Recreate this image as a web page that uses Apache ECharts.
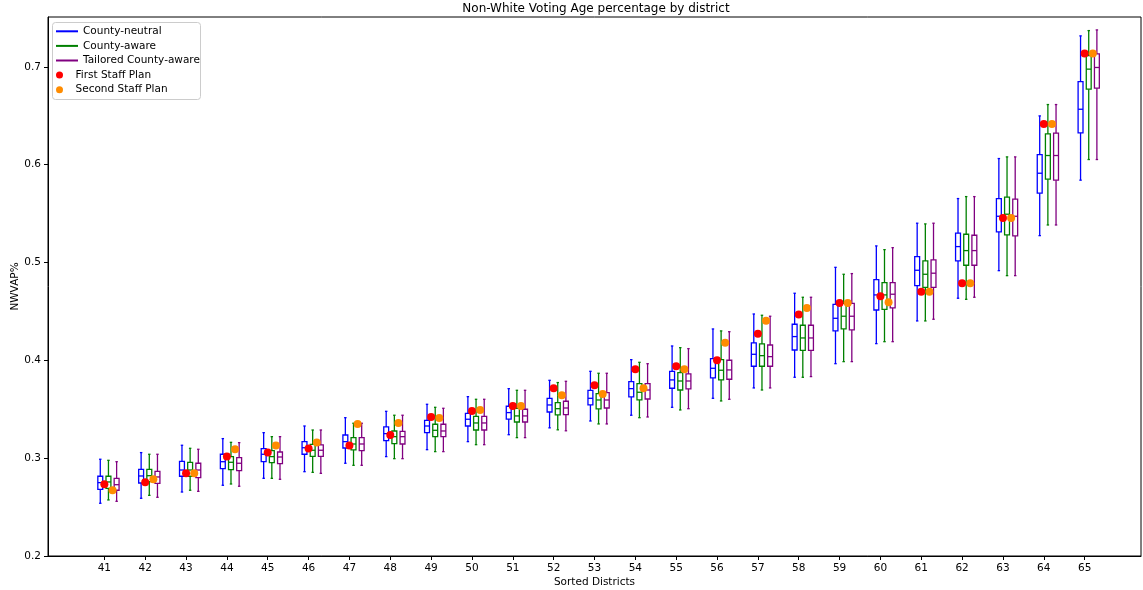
<!DOCTYPE html>
<html>
<head>
<meta charset="utf-8">
<script src="https://cdn.jsdelivr.net/npm/echarts@6/dist/echarts.min.js"></script>
<style>html,body{margin:0;padding:0;background:#fff}#c{width:1143px;height:590px}</style>
</head>
<body>
<div id="c"></div>
<script>
// ---- data ----
const districts = [41,42,43,44,45,46,47,48,49,50,51,52,53,54,55,56,57,58,59,60,61,62,63,64,65];
const yTicks = [0.2,0.3,0.4,0.5,0.6,0.7];
const yTickLabels = ['0.2','0.3','0.4','0.5','0.6','0.7'];
// [low whisker, Q1, median, Q3, high whisker]
const countyNeutral = [
 [0.2539,0.2682,0.2750,0.2815,0.2989],[0.2590,0.2746,0.2818,0.2886,0.3057],[0.2654,0.2815,0.2879,0.2968,0.3132],
 [0.2723,0.2893,0.2964,0.3040,0.3200],[0.2794,0.2964,0.3040,0.3098,0.3261],[0.2862,0.3040,0.3107,0.3169,0.3329],
 [0.2948,0.3104,0.3169,0.3237,0.3414],[0.3016,0.3179,0.3251,0.3319,0.3479],[0.3087,0.3261,0.3329,0.3387,0.3551],
 [0.3169,0.3329,0.3398,0.3459,0.3629],[0.3240,0.3400,0.3466,0.3531,0.3711],[0.3310,0.3472,0.3544,0.3612,0.3796],
 [0.3380,0.3544,0.3612,0.3694,0.3888],[0.3439,0.3626,0.3711,0.3783,0.4007],[0.3520,0.3715,0.3800,0.3888,0.4147],
 [0.3612,0.3820,0.3919,0.4018,0.4321],[0.3718,0.3940,0.4062,0.4178,0.4474],[0.3827,0.4106,0.4243,0.4369,0.4686],
 [0.3966,0.4301,0.4430,0.4573,0.4951],[0.4171,0.4515,0.4669,0.4825,0.5170],[0.4403,0.4764,0.4921,0.5060,0.5402],
 [0.4635,0.5016,0.5163,0.5300,0.5654],[0.4917,0.5313,0.5473,0.5654,0.6063],[0.5275,0.5709,0.5913,0.6104,0.6499],
 [0.5842,0.6325,0.6567,0.6850,0.7317]
];
const countyAware = [
 [0.2573,0.2692,0.2757,0.2815,0.2978],[0.2620,0.2760,0.2821,0.2886,0.3040],[0.2672,0.2815,0.2879,0.2958,0.3101],
 [0.2736,0.2883,0.2958,0.3016,0.3162],[0.2794,0.2954,0.3016,0.3077,0.3220],[0.2855,0.3019,0.3081,0.3142,0.3288],
 [0.2927,0.3084,0.3145,0.3210,0.3357],[0.2995,0.3149,0.3220,0.3278,0.3439],[0.3067,0.3220,0.3285,0.3347,0.3520],
 [0.3138,0.3288,0.3360,0.3428,0.3602],[0.3210,0.3370,0.3432,0.3510,0.3694],[0.3290,0.3442,0.3506,0.3568,0.3773],
 [0.3350,0.3503,0.3595,0.3660,0.3868],[0.3414,0.3595,0.3674,0.3762,0.3980],[0.3493,0.3697,0.3789,0.3874,0.4130],
 [0.3585,0.3800,0.3899,0.4007,0.4301],[0.3697,0.3940,0.4048,0.4168,0.4461],[0.3827,0.4103,0.4229,0.4359,0.4645],
 [0.3987,0.4321,0.4451,0.4583,0.4880],[0.4191,0.4522,0.4669,0.4795,0.5132],[0.4403,0.4747,0.4880,0.5016,0.5395],
 [0.4624,0.4972,0.5122,0.5289,0.5674],[0.4866,0.5282,0.5494,0.5668,0.6080],[0.5384,0.5852,0.6094,0.6315,0.6615],
 [0.6053,0.6772,0.6977,0.7116,0.7371]
];
const tailoredAware = [
 [0.2559,0.2672,0.2729,0.2794,0.2964],[0.2600,0.2743,0.2808,0.2866,0.3040],[0.2661,0.2801,0.2879,0.2948,0.3091],
 [0.2713,0.2873,0.2948,0.3005,0.3159],[0.2784,0.2944,0.3012,0.3063,0.3220],[0.2845,0.3019,0.3081,0.3135,0.3288],
 [0.2927,0.3077,0.3145,0.3210,0.3357],[0.2995,0.3145,0.3220,0.3275,0.3439],[0.3067,0.3220,0.3278,0.3347,0.3510],
 [0.3138,0.3288,0.3360,0.3428,0.3602],[0.3210,0.3370,0.3432,0.3500,0.3694],[0.3280,0.3445,0.3513,0.3582,0.3786],
 [0.3350,0.3513,0.3595,0.3670,0.3868],[0.3421,0.3605,0.3697,0.3762,0.3966],[0.3506,0.3708,0.3789,0.3861,0.4120],
 [0.3602,0.3807,0.3902,0.4001,0.4293],[0.3718,0.3940,0.4038,0.4157,0.4451],[0.3834,0.4103,0.4229,0.4359,0.4645],
 [0.3987,0.4311,0.4451,0.4583,0.4887],[0.4191,0.4536,0.4676,0.4795,0.5152],[0.4420,0.4747,0.4891,0.5027,0.5402],
 [0.4645,0.4972,0.5122,0.5279,0.5674],[0.4866,0.5272,0.5473,0.5648,0.6080],[0.5384,0.5842,0.6094,0.6322,0.6615],
 [0.6053,0.6782,0.6994,0.7133,0.7378]
];
const firstStaffPlan = [0.2733,0.2753,0.2845,0.3016,0.3057,0.3098,0.3129,0.3237,0.3421,0.3483,0.3534,0.3715,0.3745,
 0.3909,0.3940,0.4001,0.4273,0.4468,0.4587,0.4655,0.4702,0.4788,0.5456,0.6417,0.7137];
const secondStaffPlan = [0.2672,0.2784,0.2845,0.3091,0.3129,0.3159,0.3350,0.3360,0.3411,0.3493,0.3534,0.3643,0.3656,
 0.3715,0.3909,0.4181,0.4406,0.4536,0.4587,0.4594,0.4702,0.4788,0.5456,0.6417,0.7137];

// ---- chart ----
const FONT = 'DejaVu Sans';
const BOX_W = 0.12;
function boxSeries(name, stats, offset, color) {
  return {
    name, type: 'custom',
    itemStyle: { color },
    encode: { x: 0, y: [1, 2, 3, 4, 5] },
    data: stats.map((s, i) => [districts[i] + offset].concat(s)),
    renderItem: function (params, api) {
      const x = api.value(0);
      const lo = api.coord([x, api.value(1)]);
      const q1 = api.coord([x, api.value(2)]);
      const md = api.coord([x, api.value(3)]);
      const q3 = api.coord([x, api.value(4)]);
      const hi = api.coord([x, api.value(5)]);
      const w = api.size([BOX_W, 0])[0];
      const cx = lo[0], h = w / 2, cap = w / 4;
      const st = () => ({ stroke: color, lineWidth: 1.3, fill: null });
      return { type: 'group', children: [
        { type: 'line', shape: { x1: cx, y1: lo[1], x2: cx, y2: q1[1] }, style: st() },
        { type: 'line', shape: { x1: cx, y1: q3[1], x2: cx, y2: hi[1] }, style: st() },
        { type: 'line', shape: { x1: cx - cap, y1: lo[1], x2: cx + cap, y2: lo[1] }, style: st() },
        { type: 'line', shape: { x1: cx - cap, y1: hi[1], x2: cx + cap, y2: hi[1] }, style: st() },
        { type: 'rect', shape: { x: cx - h, y: q3[1], width: w, height: q1[1] - q3[1] }, style: st() },
        { type: 'line', shape: { x1: cx - h, y1: md[1], x2: cx + h, y2: md[1] }, style: st() }
      ]};
    }
  };
}
function dotSeries(name, vals, offset, color) {
  return {
    name, type: 'scatter', symbol: 'circle', symbolSize: 8,
    itemStyle: { color, opacity: 1 }, z: 5,
    data: vals.map((v, i) => [districts[i] + offset, v])
  };
}

const chart = echarts.init(document.getElementById('c'), null, { renderer: 'canvas' });
chart.setOption({
  animation: false,
  backgroundColor: '#fff',
  textStyle: { fontFamily: FONT },
  title: {
    text: 'Non-White Voting Age percentage by district',
    left: 596, top: 3, padding: 0, textAlign: 'center',
    textStyle: { fontFamily: FONT, fontSize: 12, fontWeight: 'normal', color: '#000' }
  },
  grid: { left: 48, right: 2, top: 17, bottom: 34, show: true, borderColor: '#000', borderWidth: 1,
    containLabel: false, outerBoundsMode: 'none' },
  graphic: [{
    type: 'rect', left: 52, top: 22, z: 1,
    shape: { width: 148, height: 77, r: 3 },
    style: { fill: 'rgba(255,255,255,0.8)', stroke: '#cccccc', lineWidth: 1 }
  }],
  legend: [{
    left: 56, top: 24, padding: 0, orient: 'vertical', itemWidth: 22, itemHeight: 2, itemGap: 0, z: 10,
    textStyle: { fontFamily: FONT, fontSize: 10.5, color: '#000', lineHeight: 14.6 },
    data: [
      { name: 'County-neutral', icon: 'rect' },
      { name: 'County-aware', icon: 'rect' },
      { name: 'Tailored County-aware', icon: 'rect' }
    ]
  }, {
    left: 56, top: 67.8, padding: 0, orient: 'vertical', itemWidth: 22, itemHeight: 7, itemGap: 0, z: 10,
    textStyle: { fontFamily: FONT, fontSize: 10.5, color: '#000', lineHeight: 14.6 },
    data: [
      { name: 'First Staff Plan', icon: 'circle' },
      { name: 'Second Staff Plan', icon: 'circle' }
    ]
  }],
  xAxis: {
    type: 'value', min: 39.62, max: 66.38,
    name: 'Sorted Districts', nameLocation: 'middle', nameGap: 21, nameMoveOverlap: false,
    nameTextStyle: { fontFamily: FONT, fontSize: 10.5, color: '#000' },
    axisLine: { show: true, lineStyle: { color: '#000', width: 1 } },
    axisTick: { show: true, length: 4, lineStyle: { color: '#000' }, customValues: districts },
    axisLabel: { margin: 7, fontFamily: FONT, fontSize: 10.5, color: '#000', customValues: districts,
      formatter: v => String(Math.round(v)) },
    splitLine: { show: false }
  },
  yAxis: {
    type: 'value', min: 0.2, max: 0.751,
    name: 'NWVAP%', nameLocation: 'middle', nameGap: 27, nameMoveOverlap: false,
    nameTextStyle: { fontFamily: FONT, fontSize: 10.5, color: '#000' },
    axisLine: { show: true, lineStyle: { color: '#000', width: 1 } },
    axisTick: { show: true, length: 4, lineStyle: { color: '#000' }, customValues: yTicks },
    axisLabel: { margin: 7, fontFamily: FONT, fontSize: 10.5, color: '#000', customValues: yTicks,
      formatter: v => yTickLabels[yTicks.findIndex(t => Math.abs(t - v) < 1e-6)] },
    splitLine: { show: false }
  },
  series: [
    boxSeries('County-neutral', countyNeutral, -0.1, '#0000ff'),
    boxSeries('County-aware', countyAware, 0.1, '#008000'),
    boxSeries('Tailored County-aware', tailoredAware, 0.3, '#800080'),
    dotSeries('First Staff Plan', firstStaffPlan, 0, '#ff0000'),
    dotSeries('Second Staff Plan', secondStaffPlan, 0.2, '#ff8c00')
  ]
});
</script>
</body>
</html>
